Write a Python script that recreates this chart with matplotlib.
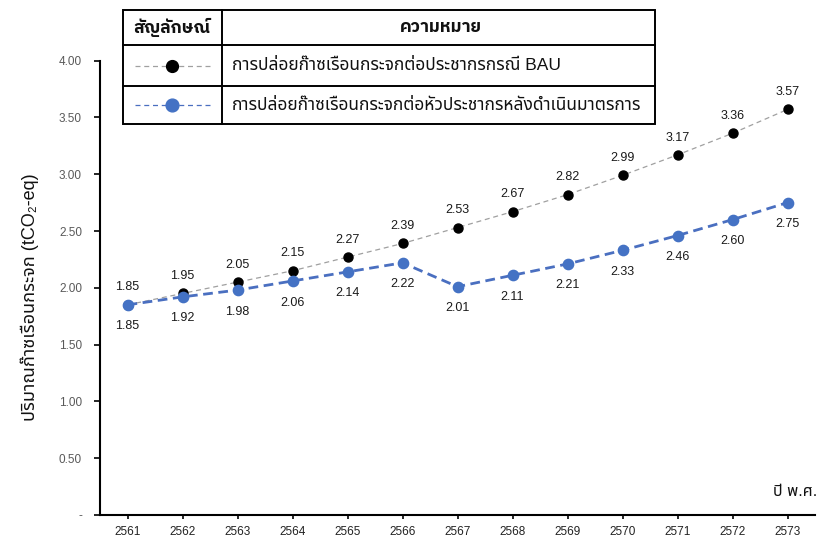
import matplotlib
matplotlib.use("Agg")
import matplotlib.pyplot as plt
from matplotlib.lines import Line2D
from matplotlib.patches import Rectangle
from matplotlib.ticker import FixedLocator, FuncFormatter

# Data
years = ["2561", "2562", "2563", "2564", "2565", "2566", "2567",
         "2568", "2569", "2570", "2571", "2572", "2573"]
bau = [1.85, 1.95, 2.05, 2.15, 2.27, 2.39, 2.53, 2.67, 2.82, 2.99, 3.17, 3.36, 3.57]
after = [1.85, 1.92, 1.98, 2.06, 2.14, 2.22, 2.01, 2.11, 2.21, 2.33, 2.46, 2.60, 2.75]
y_ticks = [0, 0.5, 1.0, 1.5, 2.0, 2.5, 3.0, 3.5, 4.0]

label_bau = "การปล่อยก๊าซเรือนกระจกต่อประชากรกรณี BAU"
label_after = "การปล่อยก๊าซเรือนกระจกต่อหัวประชากรหลังดำเนินมาตรการ"
head_symbol = "สัญลักษณ์"
head_meaning = "ความหมาย"
y_title = "ปริมาณก๊าซเรือนกระจก (tCO₂-eq)"
x_title = "ปี พ.ศ."

FONT = ["Liberation Sans", "Noto Sans Thai", "DejaVu Sans"]
HEAD_FONT = ["IBM Plex Sans Thai", "Noto Sans Thai", "DejaVu Sans"]
plt.rcParams["font.family"] = FONT

W, H = 818, 540
BLUE = "#4472C4"
BLUE_LINE = "#4a6fc0"
GRAY_LINE = "#a0a0a0"
TICK_GRAY = "#595959"

fig = plt.figure(figsize=(W / 100, H / 100), dpi=100)


def px(x, y):
    """Pixel position (from top-left) to figure fraction."""
    return x / W, 1 - y / H


left, right, top, bottom = 100, 815, 60.6, 515
ax = fig.add_axes([left / W, 1 - bottom / H, (right - left) / W, (bottom - top) / H])

xs = list(range(len(years)))
ax.plot(xs, bau, linestyle=(0, (4, 3)), color=GRAY_LINE, linewidth=0.9,
        marker="o", markersize=6.5, markerfacecolor="black",
        markeredgecolor="black", zorder=3)
ax.plot(xs, after, linestyle=(0, (3.5, 2)), color=BLUE_LINE, linewidth=2.0,
        marker="o", markersize=7.4, markerfacecolor=BLUE,
        markeredgecolor=BLUE, zorder=4)

for x, v in zip(xs, bau):
    ax.annotate(f"{v:.2f}", (x, v), xytext=(0, 12.5), textcoords="offset points",
                ha="center", va="center", fontsize=9, color="#1a1a1a")
for x, v in zip(xs, after):
    ax.annotate(f"{v:.2f}", (x, v), xytext=(0, -15.5), textcoords="offset points",
                ha="center", va="center", fontsize=9, color="#1a1a1a")

ax.set_xlim(-0.5, len(years) - 0.5)
ax.set_ylim(0, 4.0)
ax.set_xticks(xs)
ax.set_xticklabels(years)
ax.yaxis.set_major_locator(FixedLocator(y_ticks))
ax.yaxis.set_major_formatter(FuncFormatter(lambda v, p: "-" if v == 0 else f"{v:.2f}"))

for s in ("top", "right"):
    ax.spines[s].set_visible(False)
for s in ("left", "bottom"):
    ax.spines[s].set_linewidth(1.5)
    ax.spines[s].set_color("black")

ax.tick_params(axis="y", direction="out", length=4, width=1.2, pad=9,
               labelsize=8.5, labelcolor=TICK_GRAY, color="black")
ax.tick_params(axis="x", direction="out", length=3, width=1.2, pad=5,
               labelsize=8.5, labelcolor="#222222", color="black")

fig.text(*px(30, 297), y_title, rotation=90, ha="center", va="center",
         fontsize=13, color="#111111")
fig.text(*px(817, 492), x_title, ha="right", va="center",
         fontsize=11.5, color="#111111")

# Legend drawn as a bordered table
tl = dict(transform=fig.transFigure, color="black", linewidth=1.4)
x0, x1, xd = 123, 655, 222
y0, y1, y2, y3 = 10, 45, 86, 124
fig.add_artist(Rectangle(px(x0, y3), (x1 - x0) / W, (y3 - y0) / H,
                         transform=fig.transFigure, fill=False,
                         edgecolor="black", linewidth=1.4))
for yy in (y1, y2):
    fig.add_artist(Line2D([x0 / W, x1 / W], [1 - yy / H] * 2, **tl))
fig.add_artist(Line2D([xd / W] * 2, [1 - y0 / H, 1 - y3 / H], **tl))

fig.text(*px(172, 27), head_symbol, ha="center", va="center", family=HEAD_FONT,
         fontsize=12.5, fontweight="bold", color="#111111")
fig.text(*px(441, 27), head_meaning, ha="center", va="center", family=HEAD_FONT,
         fontsize=12.5, fontweight="bold", color="#111111")

rows = [
    (66, GRAY_LINE, 0.9, "black", 6.5, label_bau),
    (105, BLUE_LINE, 0.9, BLUE, 7.2, label_after),
]
for yy, lc, lw, mc, ms, txt in rows:
    fig.add_artist(Line2D([135 / W, 212 / W], [1 - yy / H] * 2,
                          transform=fig.transFigure, color=lc,
                          linewidth=lw, linestyle=(0, (4, 3))))
    fig.add_artist(Line2D([172 / W], [1 - yy / H], transform=fig.transFigure,
                          marker="o", markersize=ms + 2, color=mc,
                          linestyle="none"))
    fig.text(*px(232, yy), txt, ha="left", va="center",
             fontsize=12.5, color="#111111")

fig.savefig("out.png", dpi=100)
